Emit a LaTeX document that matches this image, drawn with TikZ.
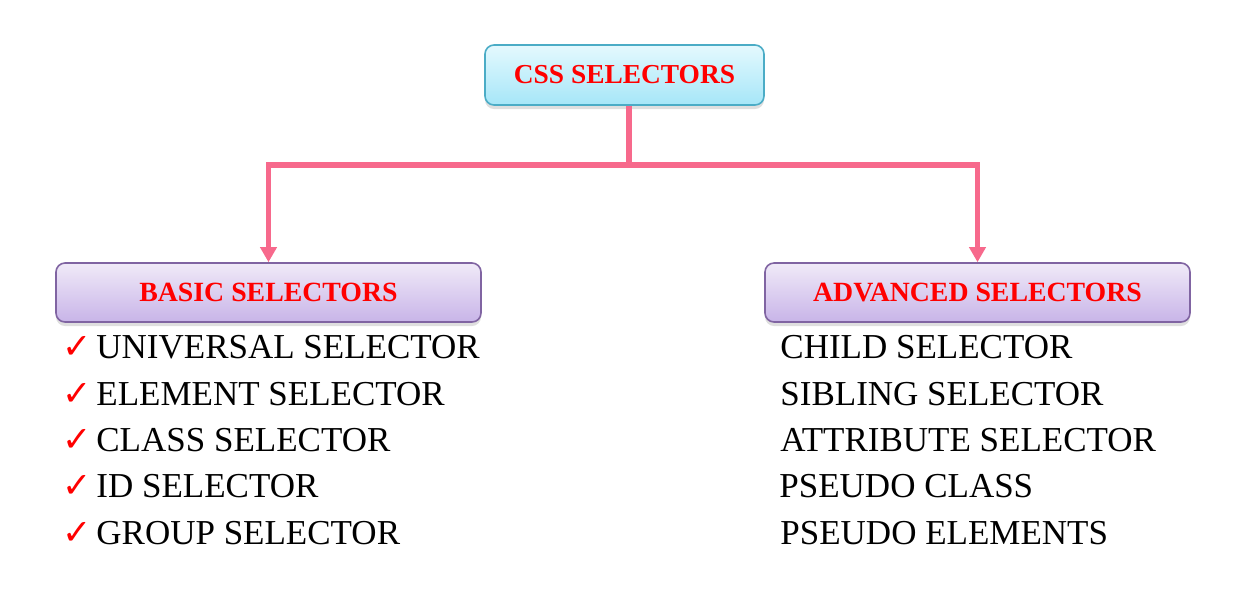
\documentclass[tikz,border=0pt]{standalone}
\usepackage{xcolor}
\definecolor{LinkPink}{HTML}{F7698C}
\definecolor{TitleRed}{HTML}{FF0000}
\definecolor{CyanTop}{HTML}{E4F9FE}
\definecolor{CyanBot}{HTML}{A6E6F8}
\definecolor{CyanEdge}{HTML}{4BACC6}
\definecolor{LilacTop}{HTML}{F0EAF8}
\definecolor{LilacBot}{HTML}{C8B4E8}
\definecolor{LilacEdge}{HTML}{8064A2}
\usepackage{fontspec}
\setmainfont{Liberation Serif}
\newfontfamily\checkfont{DejaVu Sans}
\usepackage{tikz}
\usetikzlibrary{positioning}
\usetikzlibrary{shadows}
\usetikzlibrary{arrows, arrows.meta}
\newcommand{\tick}{\makebox[17pt][l]{\checkfont\color{TitleRed}\char"2713}}

\begin{document}
\begin{tikzpicture}[
    auto,
    titleBox/.style={rectangle,
    draw=CyanEdge,
    line width=0.8pt,
    top color=CyanTop,
    bottom color=CyanBot,
    text=TitleRed,
    font=\fontsize{13.7pt}{16pt}\selectfont\bfseries,
    minimum width=139.5pt,
    minimum height=30pt,
    rounded corners=4.5pt,
    drop shadow={opacity=0.25, shadow xshift=0pt, shadow yshift=-2pt}},
    groupBox/.style={rectangle,
    draw=LilacEdge,
    line width=0.8pt,
    top color=LilacTop,
    bottom color=LilacBot,
    text=TitleRed,
    font=\fontsize{13.9pt}{16pt}\selectfont\bfseries,
    minimum width=212.5pt,
    minimum height=29.5pt,
    rounded corners=4.5pt,
    drop shadow={opacity=0.25, shadow xshift=0pt, shadow yshift=-2pt}},
    item/.style={anchor=base west,
    inner sep=0pt,
    font=\fontsize{17.5pt}{20pt}\selectfont},
    link/.style={draw=LinkPink,
    line width=2.6pt}
    ]
    \useasboundingbox (0,0) rectangle (623pt,-295.5pt);
    \node[titleBox] (0) [xshift=312.25pt, yshift=-37.5pt] {CSS SELECTORS};
    \node[groupBox] (1) [xshift=134.25pt, yshift=-146.25pt] {BASIC SELECTORS};
    \node[groupBox] (2) [xshift=488.75pt, yshift=-146.25pt] {ADVANCED SELECTORS};
    \coordinate (j) at (314.5pt,-82.5pt);
    \draw[link, -{Triangle[length=7.5pt,width=8pt]}] (0.south -| j) -- (j) -| (1.north);
    \draw[link, -{Triangle[length=7.5pt,width=8pt]}] (j) -| (2.north);
    % basic list
    \node[item] (b1) [xshift=31pt, yshift=-179pt] {\tick UNIVERSAL SELECTOR};
    \node[item] (b2) [xshift=31pt, yshift=-202.5pt] {\tick ELEMENT SELECTOR};
    \node[item] (b3) [xshift=31pt, yshift=-225.5pt] {\tick CLASS SELECTOR};
    \node[item] (b4) [xshift=31pt, yshift=-248.5pt] {\tick ID SELECTOR};
    \node[item] (b5) [xshift=31pt, yshift=-272pt] {\tick GROUP SELECTOR};
    % advanced list
    \node[item] (a1) [xshift=390pt, yshift=-179pt] {CHILD SELECTOR};
    \node[item] (a2) [xshift=390pt, yshift=-202.5pt] {SIBLING SELECTOR};
    \node[item] (a3) [xshift=390pt, yshift=-225.5pt] {ATTRIBUTE SELECTOR};
    \node[item] (a4) [xshift=389.5pt, yshift=-248.5pt] {PSEUDO CLASS};
    \node[item] (a5) [xshift=390pt, yshift=-272pt] {PSEUDO ELEMENTS};
  \end{tikzpicture}
\end{document}
